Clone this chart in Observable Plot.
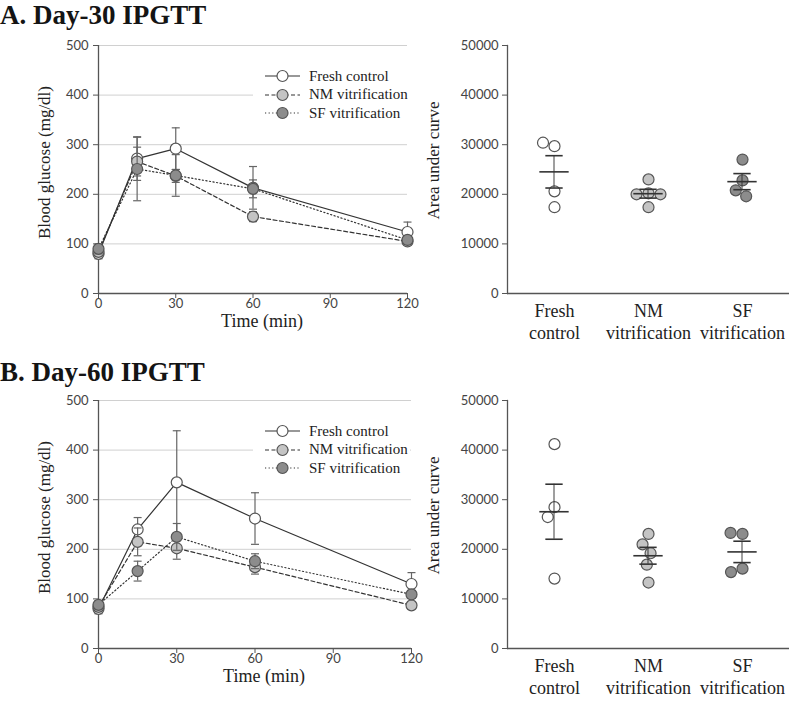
<!DOCTYPE html>
<html>
<head>
<meta charset="utf-8">
<script src="https://cdn.jsdelivr.net/npm/d3@7"></script>
<script src="https://cdn.jsdelivr.net/npm/@observablehq/plot@0.6"></script>
<style>
  body { margin: 0; background: #fff; }
  #root { position: relative; width: 800px; height: 704px; overflow: hidden; font-family: "Liberation Serif", "Times New Roman", serif; }
  .title { position: absolute; left: 0; font-weight: bold; font-size: 27px; line-height: 27px; color: #141414; white-space: nowrap; }
  .panel { position: absolute; }
  .panel svg { overflow: visible; }
  .legend { position: absolute; background: #fff; font-size: 15px; color: #222; }
  .legend .row { display: flex; align-items: center; height: 18.5px; white-space: nowrap; }
  .legend svg { display: block; }
</style>
</head>
<body>
<div id="root"></div>
<script>
// ---------- data ----------
const titles = ["A. Day-30 IPGTT", "B. Day-60 IPGTT"];
const seriesNames = ["Fresh control", "NM vitrification", "SF vitrification"];
const times = [0, 15, 30, 60, 120];
const timeTicks = [0, 30, 60, 90, 120];
const glucoseTicks = [0, 100, 200, 300, 400, 500];

// Day-30 blood glucose (mean, SEM)
const d30Fresh = [80, 272, 292, 213, 124];
const d30FreshSem = [10, 44, 42, 43, 20];
const d30NM = [84, 266, 237, 155, 105];
const d30NMSem = [8, 29, 13, 10, 7];
const d30SF = [90, 251, 238, 211, 108];
const d30SFSem = [10, 64, 42, 18, 8];

// Day-60 blood glucose (mean, SEM)
const d60Fresh = [80, 240, 335, 262, 130];
const d60FreshSem = [10, 24, 104, 52, 23];
const d60NM = [84, 215, 202, 164, 87];
const d60NMSem = [8, 28, 22, 14, 6];
const d60SF = [88, 156, 225, 176, 109];
const d60SFSem = [8, 20, 27, 15, 8];

// Area under curve, individual animals
const aucCategories = ["Fresh\ncontrol", "NM\nvitrification", "SF\nvitrification"];
const aucTicks = [0, 10000, 20000, 30000, 40000, 50000];
const auc30Fresh = [29700, 30400, 20600, 17400];
const auc30NM = [23000, 20200, 20000, 20000, 17400];
const auc30SF = [27000, 22800, 20800, 19600];
const auc60Fresh = [41200, 28500, 26500, 14100];
const auc60NM = [23100, 21000, 19200, 16900, 13300];
const auc60SF = [23100, 23300, 16100, 15400];

// ---------- styles ----------
const SANS = "Lato, 'Open Sans', sans-serif";
const SERIF = "'Liberation Serif', 'Times New Roman', serif";
const AX = "#555";
const seriesStyle = [
  {fill: "#ffffff", dash: null},
  {fill: "#c4c4c4", dash: "4,2.5"},
  {fill: "#8c8c8c", dash: "1.2,2.4"}
];
const capSymbol = {
  draw(ctx, size) { const w = Math.sqrt(size / Math.PI); ctx.moveTo(-w, 0); ctx.lineTo(w, 0); }
};
const intFmt = d3.format("d");

function glucosePlot(means, sems, marginRight, timeDy) {
  const marks = [
    Plot.gridY(glucoseTicks.slice(1), {stroke: "#d0d0d0", strokeOpacity: 1}),
    Plot.axisY({ticks: glucoseTicks, tickSize: 5, tickPadding: 5, label: null, stroke: AX, fontSize: 13}),
    Plot.axisX({ticks: timeTicks, tickSize: 5, tickPadding: 0, label: null, stroke: AX, fontSize: 13}),
    Plot.ruleY([0], {stroke: AX, strokeWidth: 1.3}),
    Plot.ruleX([0], {stroke: AX, strokeWidth: 1.3}),
    Plot.text(["Blood glucose (mg/dl)"], {frameAnchor: "left", textAnchor: "middle", rotate: -90, dx: -54, dy: -7, fontFamily: SERIF, fontSize: 17, fill: "#222"}),
    Plot.text(["Time (min)"], {frameAnchor: "bottom", textAnchor: "middle", dx: 9, dy: timeDy, fontFamily: SERIF, fontSize: 18, fill: "#222"})
  ];
  seriesNames.forEach((name, i) => {
    const rows = times.map((t, j) => ({t, v: means[i][j], e: sems[i][j]}));
    marks.push(
      Plot.ruleX(rows, {x: "t", y1: d => d.v - d.e, y2: d => d.v + d.e, stroke: "#666", strokeWidth: 1.2}),
      Plot.dot(rows, {x: "t", y: d => d.v + d.e, symbol: capSymbol, r: 4, stroke: "#666", strokeWidth: 1.2}),
      Plot.dot(rows, {x: "t", y: d => d.v - d.e, symbol: capSymbol, r: 4, stroke: "#666", strokeWidth: 1.2}),
      Plot.line(rows, {x: "t", y: "v", stroke: "#333", strokeWidth: 1.2, strokeDasharray: seriesStyle[i].dash}),
      Plot.dot(rows, {x: "t", y: "v", r: 5.5, fill: seriesStyle[i].fill, stroke: "#555", strokeWidth: 1.2})
    );
  });
  return Plot.plot({
    width: 420, height: 300, marginLeft: 98, marginRight, marginTop: 10, marginBottom: 42,
    x: {domain: [0, 120]}, y: {domain: [0, 500]},
    style: {fontFamily: SANS, fontSize: "13px", color: "#444", background: "transparent"},
    marks
  });
}

function aucPlot(groups) {
  const W = 380, ML = 86, MR = 10;
  const fw = (W - ML - MR) / aucCategories.length;
  const ins = w => (fw - w) / 2;
  const summary = groups.map((vals, i) => {
    const m = d3.mean(vals), s = d3.deviation(vals) / Math.sqrt(vals.length);
    return {cat: aucCategories[i], m, lo: m - s, hi: m + s};
  });
  const marks = [
    Plot.axisFx({anchor: "bottom", label: null, tickSize: 0, tickPadding: 9, fontFamily: SERIF, fontSize: 18, lineHeight: 1.17, fill: "#222"}),
    Plot.axisY({ticks: aucTicks, tickFormat: intFmt, tickSize: 5, tickPadding: 4, label: null, stroke: AX, fontSize: 13}),
    Plot.frame({anchor: "left", facetAnchor: "left", stroke: AX, strokeWidth: 1.3}),
    Plot.ruleY([0], {stroke: AX, strokeWidth: 1.3}),
    Plot.text([{cat: aucCategories[0]}], {fx: "cat", text: () => "Area under curve", frameAnchor: "left", textAnchor: "middle", rotate: -90, dx: -74, dy: -9, fontFamily: SERIF, fontSize: 17, fill: "#222"})
  ];
  groups.forEach((vals, i) => {
    const rows = vals.map(v => ({cat: aucCategories[i], v}));
    marks.push(Plot.dot(rows, Plot.dodgeX("middle", {fx: "cat", y: "v", r: 5.5, padding: 2, fill: seriesStyle[i].fill, stroke: "#555", strokeWidth: 1.2})));
  });
  marks.push(
    Plot.barY(summary, {fx: "cat", y1: "lo", y2: "hi", insetLeft: ins(1.6), insetRight: ins(1.6), fill: "#333"}),
    Plot.ruleY(summary, {fx: "cat", y: "hi", insetLeft: ins(18), insetRight: ins(18), stroke: "#333", strokeWidth: 1.6}),
    Plot.ruleY(summary, {fx: "cat", y: "lo", insetLeft: ins(18), insetRight: ins(18), stroke: "#333", strokeWidth: 1.6}),
    Plot.ruleY(summary, {fx: "cat", y: "m", insetLeft: ins(30), insetRight: ins(30), stroke: "#333", strokeWidth: 1.6})
  );
  return Plot.plot({
    width: W, height: 300, marginLeft: ML, marginRight: MR, marginTop: 10, marginBottom: 42,
    fx: {domain: aucCategories, padding: 0},
    y: {domain: [0, 50000]},
    style: {fontFamily: SANS, fontSize: "13px", color: "#444", background: "transparent"},
    marks
  });
}

function legend(top) {
  const div = document.createElement("div");
  div.className = "legend";
  div.style.left = "253px";
  div.style.top = top + "px";
  div.style.width = "157px";
  div.style.padding = "3px 0";
  seriesNames.forEach((name, i) => {
    const row = document.createElement("div");
    row.className = "row";
    const ns = "http://www.w3.org/2000/svg";
    const svg = document.createElementNS(ns, "svg");
    svg.setAttribute("width", 52); svg.setAttribute("height", 18);
    const line = document.createElementNS(ns, "line");
    line.setAttribute("x1", 12); line.setAttribute("x2", 47); line.setAttribute("y1", 9); line.setAttribute("y2", 9);
    line.setAttribute("stroke", "#333"); line.setAttribute("stroke-width", 1.2);
    if (seriesStyle[i].dash) line.setAttribute("stroke-dasharray", seriesStyle[i].dash);
    const c = document.createElementNS(ns, "circle");
    c.setAttribute("cx", 29.5); c.setAttribute("cy", 9); c.setAttribute("r", 5.5);
    c.setAttribute("fill", seriesStyle[i].fill); c.setAttribute("stroke", "#555"); c.setAttribute("stroke-width", 1.2);
    svg.appendChild(line); svg.appendChild(c);
    const span = document.createElement("span");
    span.textContent = name;
    span.style.marginLeft = "4px";
    row.appendChild(svg); row.appendChild(span);
    div.appendChild(row);
  });
  return div;
}

const root = document.getElementById("root");
function place(el, left, top) {
  const wrap = document.createElement("div");
  wrap.className = "panel";
  wrap.style.left = left + "px"; wrap.style.top = top + "px";
  wrap.appendChild(el);
  root.appendChild(wrap);
}
function addTitle(text, top) {
  const t = document.createElement("div");
  t.className = "title"; t.style.top = top + "px"; t.textContent = text;
  root.appendChild(t);
}

addTitle(titles[0], 1.5);
place(glucosePlot([d30Fresh, d30NM, d30SF], [d30FreshSem, d30NMSem, d30SFSem], 13, 33), 0, 35);
place(aucPlot([auc30Fresh, auc30NM, auc30SF]), 420, 35);
root.appendChild(legend(64));

addTitle(titles[1], 359);
place(glucosePlot([d60Fresh, d60NM, d60SF], [d60FreshSem, d60NMSem, d60SFSem], 9, 33), 0, 390);
place(aucPlot([auc60Fresh, auc60NM, auc60SF]), 420, 390);
root.appendChild(legend(419));
</script>
</body>
</html>
